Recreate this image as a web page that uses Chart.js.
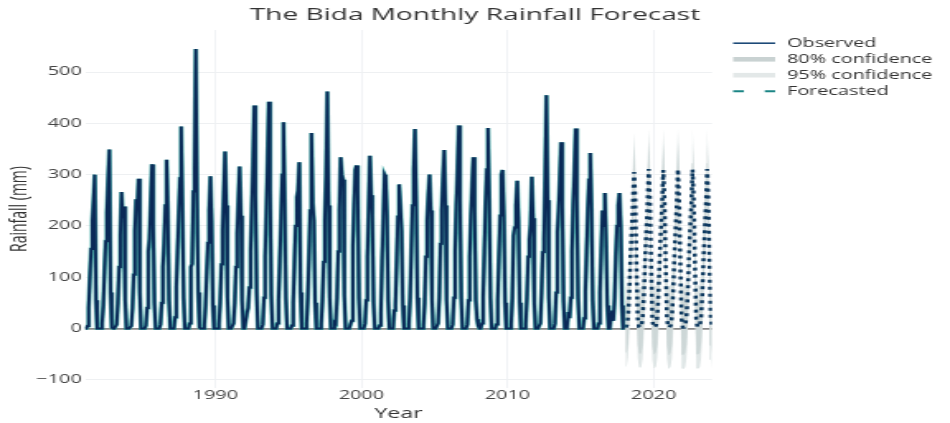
<!DOCTYPE html>
<html>
<head>
<meta charset="utf-8">
<script src="https://cdn.jsdelivr.net/npm/chart.js@4.4.1/dist/chart.umd.min.js"></script>
<style>
  html, body { margin: 0; padding: 0; background: #fff; overflow: hidden; }
  /* the plot is laid out on a narrower canvas and widened to the page */
  #wrap { width: 576px; height: 423px; transform: scaleX(1.649305); transform-origin: 0 0; }
  canvas { display: block; }
</style>
</head>
<body>
<div id="wrap"><canvas id="c" width="576" height="423" style="width:576px;height:423px"></canvas></div>
<script>
// Monthly rainfall at Bida (mm), Jan..Dec for each year
const OBS_START_YEAR = 1981;
const observed = [
  0, 0, 5, 40, 100, 155, 210, 250, 300, 55, 0, 0,      // 1981
  0, 0, 10, 45, 110, 170, 225, 290, 349, 70, 2, 0,     // 1982
  0, 0, 8, 50, 120, 180, 266, 215, 238, 55, 0, 0,      // 1983
  0, 0, 5, 40, 105, 190, 252, 232, 292, 70, 0, 0,      // 1984
  0, 0, 6, 40, 150, 175, 245, 320, 200, 50, 0, 0,      // 1985
  0, 0, 8, 50, 120, 166, 240, 329, 230, 55, 0, 0,      // 1986
  0, 0, 22, 81, 150, 220, 293, 394, 230, 60, 0, 0,     // 1987
  0, 0, 10, 120, 126, 267, 311, 545, 250, 70, 2, 0,    // 1988
  0, 0, 6, 45, 110, 167, 230, 297, 210, 45, 0, 0,      // 1989
  0, 0, 8, 52, 125, 190, 265, 345, 240, 60, 0, 0,      // 1990
  0, 0, 10, 50, 120, 185, 250, 316, 220, 55, 0, 0,     // 1991
  0, 30, 40, 80, 150, 230, 320, 435, 260, 70, 0, 0,    // 1992
  0, 0, 8, 60, 140, 230, 330, 442, 270, 65, 0, 0,      // 1993
  0, 0, 10, 55, 130, 210, 300, 402, 250, 60, 0, 0,     // 1994
  0, 0, 6, 50, 125, 200, 256, 269, 324, 70, 0, 0,      // 1995
  0, 0, 10, 60, 140, 230, 381, 244, 210, 50, 0, 0,     // 1996
  0, 0, 8, 55, 130, 210, 300, 462, 240, 60, 0, 0,      // 1997
  0, 12, 10, 60, 150, 230, 334, 300, 290, 65, 0, 0,    // 1998
  0, 0, 8, 15, 160, 240, 309, 318, 270, 60, 0, 0,      // 1999
  0, 0, 10, 55, 140, 230, 337, 260, 220, 50, 0, 0,     // 2000
  0, 0, 6, 30, 130, 210, 300, 295, 220, 55, 0, 0,      // 2001
  0, 0, 35, 45, 130, 218, 281, 240, 190, 45, 0, 0,     // 2002
  0, 0, 8, 60, 150, 240, 310, 389, 250, 60, 0, 0,      // 2003
  0, 0, 6, 50, 140, 210, 260, 300, 230, 55, 0, 0,      // 2004
  0, 0, 10, 60, 165, 230, 290, 348, 240, 55, 0, 0,     // 2005
  0, 0, 8, 60, 150, 240, 310, 396, 250, 60, 0, 0,      // 2006
  0, 0, 8, 55, 140, 220, 280, 334, 230, 55, 18, 5,     // 2007
  0, 0, 10, 60, 150, 240, 310, 391, 250, 60, 0, 0,     // 2008
  0, 0, 8, 55, 140, 220, 300, 309, 220, 50, 0, 0,      // 2009
  0, 0, 8, 60, 181, 197, 240, 288, 210, 50, 0, 0,      // 2010
  0, 0, 8, 60, 140, 173, 203, 296, 215, 50, 0, 0,      // 2011
  0, 0, 10, 70, 149, 174, 300, 455, 250, 60, 0, 0,     // 2012
  0, 0, 10, 70, 188, 230, 290, 363, 240, 55, 0, 0,     // 2013
  3, 32, 20, 60, 150, 240, 310, 390, 250, 60, 0, 0,    // 2014
  0, 0, 20, 71, 150, 230, 290, 342, 230, 55, 0, 0,     // 2015
  0, 0, 10, 70, 150, 230, 200, 264, 168, 45, 0, 0,     // 2016
  22, 35, 15, 60, 140, 200, 240, 264, 200, 45, 0, 0    // 2017
];

// Forecast (mm), Jan..Dec for each year
const FC_START_YEAR = 2018;
const forecast = [
  2, 6, 22, 65, 135, 190, 240, 305, 250, 120, 20, 3,   // 2018
  2, 5, 20, 62, 132, 188, 238, 311, 252, 118, 18, 2,   // 2019
  3, 6, 22, 66, 136, 192, 242, 309, 250, 120, 20, 3,   // 2020
  2, 6, 21, 64, 134, 190, 240, 311, 251, 119, 19, 2,   // 2021
  2, 6, 22, 65, 135, 191, 241, 310, 250, 120, 20, 3,   // 2022
  3, 6, 22, 65, 135, 191, 241, 311, 251, 120, 20, 3    // 2023
];
// half-width of the prediction intervals for each forecast year (mm)
const ci80Half = [51, 52, 52, 53, 53, 53];
const ci95Half = [78, 79, 80, 80, 81, 81];

const xTickYears = [1990, 2000, 2010, 2020];
const yTickValues = [-100, 0, 100, 200, 300, 400, 500];
const legendLabels = ['Observed', '80% confidence', '95% confidence', 'Forecasted'];
const titleText = 'The Bida Monthly Rainfall Forecast';

// month-end position on a decimal-year axis
const monthX = (startYear, i) => startYear + (i + 1) / 12;
const obsPts = observed.map((v, i) => ({ x: monthX(OBS_START_YEAR, i), y: v }));
const fcPts = forecast.map((v, i) => ({ x: monthX(FC_START_YEAR, i), y: v }));
const bandPts = (half, sign) => forecast.map((v, i) => ({
  x: monthX(FC_START_YEAR, i), y: v + sign * half[Math.floor(i / 12)]
}));

const NAVY = '#0a2957';
const TEAL = 'rgba(50,165,160,0.85)';
const FC_COLOR = '#0f3a60';
const BAND80 = '#cdd7d7';
const BAND95 = '#dfe6e6';
const TEXT = '#333';
const FONT = '"Open Sans", "DejaVu Sans", sans-serif';

const CW = 576, CH = 423;
const PLOT_L = 51.54, PLOT_R = 431.7, PLOT_T = 30, PLOT_B = 388;

const titleLegend = {
  id: 'titleLegend',
  afterDraw(chart) {
    const ctx = chart.ctx;
    ctx.save();
    ctx.fillStyle = TEXT;
    ctx.textBaseline = 'middle';
    ctx.textAlign = 'center';
    ctx.font = '17px ' + FONT;
    ctx.fillText(titleText, CW / 2, 15);

    const x0 = 444.5, x1 = 470, tx = 477.2;
    const rows = [43.2, 59.3, 75.2, 91.2];
    ctx.textAlign = 'left';
    ctx.font = '12px ' + FONT;
    // Observed
    ctx.strokeStyle = '#1d4a78';
    ctx.lineWidth = 1.6;
    ctx.beginPath(); ctx.moveTo(x0, rows[0]); ctx.lineTo(x1, rows[0]); ctx.stroke();
    // 80% and 95% bands
    ctx.fillStyle = '#c9d2d2';
    ctx.fillRect(x0, rows[1] - 2.3, x1 - x0, 4.6);
    ctx.fillStyle = '#e3e8e8';
    ctx.fillRect(x0, rows[2] - 2.3, x1 - x0, 4.6);
    // Forecasted
    ctx.strokeStyle = '#1b8585';
    ctx.lineWidth = 2;
    ctx.setLineDash([6.5, 12.7]);
    ctx.beginPath(); ctx.moveTo(x0, rows[3]); ctx.lineTo(x1, rows[3]); ctx.stroke();
    ctx.setLineDash([]);
    ctx.fillStyle = TEXT;
    legendLabels.forEach((t, i) => ctx.fillText(t, tx, rows[i]));
    ctx.restore();
  }
};

new Chart(document.getElementById('c'), {
  type: 'line',
  data: {
    datasets: [
      { label: legendLabels[0], data: obsPts, borderColor: NAVY, borderWidth: 1.9,
        pointRadius: 0, tension: 0, fill: false, order: 0 },
      { label: 'observed-edge', data: obsPts, borderColor: TEAL, borderWidth: 2.9,
        pointRadius: 0, tension: 0, fill: false, order: 1 },
      { label: legendLabels[3], data: fcPts, borderColor: FC_COLOR, borderWidth: 2.5,
        borderDash: [3, 4], pointRadius: 0, tension: 0, fill: false, order: 2 },
      { label: legendLabels[1], data: bandPts(ci80Half, 1), borderColor: 'rgba(0,0,0,0)',
        backgroundColor: BAND80, borderWidth: 1, pointRadius: 0, tension: 0, fill: '+1', order: 3 },
      { label: 'lower80', data: bandPts(ci80Half, -1), borderColor: 'rgba(0,0,0,0)',
        borderWidth: 1, pointRadius: 0, tension: 0, fill: false, order: 4 },
      { label: legendLabels[2], data: bandPts(ci95Half, 1), borderColor: 'rgba(0,0,0,0)',
        backgroundColor: BAND95, borderWidth: 1, pointRadius: 0, tension: 0, fill: '+1', order: 5 },
      { label: 'lower95', data: bandPts(ci95Half, -1), borderColor: 'rgba(0,0,0,0)',
        borderWidth: 1, pointRadius: 0, tension: 0, fill: false, order: 6 }
    ]
  },
  options: {
    responsive: false,
    animation: false,
    devicePixelRatio: 1,
    layout: { padding: { top: PLOT_T, right: CW - PLOT_R, bottom: 0, left: 0 } },
    plugins: { legend: { display: false }, title: { display: false }, tooltip: { enabled: false } },
    scales: {
      x: {
        type: 'linear',
        min: monthX(OBS_START_YEAR, 0),
        max: monthX(FC_START_YEAR, forecast.length - 1),
        afterBuildTicks: s => { s.ticks = xTickYears.map(v => ({ value: v })); },
        afterFit: s => { s.height = CH - PLOT_B; },
        grid: { color: '#eceff1', lineWidth: 0.8, drawTicks: false },
        border: { display: false },
        ticks: { padding: 0, color: '#444', font: { family: FONT, size: 12 },
                 callback: v => String(v), maxRotation: 0 },
        title: { display: true, text: 'Year', color: TEXT,
                 font: { family: FONT, size: 14 }, padding: { top: 0, bottom: 1 } }
      },
      y: {
        min: -116, max: 582,
        afterBuildTicks: s => { s.ticks = yTickValues.map(v => ({ value: v })); },
        afterFit: s => { s.width = PLOT_L; },
        grid: {
          drawTicks: false,
          color: c => (c.tick && c.tick.value === 0) ? '#8a8a8a' : '#eef0f2',
          lineWidth: c => (c.tick && c.tick.value === 0) ? 1.8 : 1
        },
        border: { display: false },
        ticks: { padding: 2, color: '#444', font: { family: FONT, size: 12 },
                 callback: v => v < 0 ? '\u2212' + Math.abs(v) : String(v) },
        title: { display: true, text: 'Rainfall (mm)', color: TEXT,
                 font: { family: FONT, size: 14 }, padding: { top: 4, bottom: 0 } }
      }
    }
  },
  plugins: [titleLegend]
});
</script>
</body>
</html>
